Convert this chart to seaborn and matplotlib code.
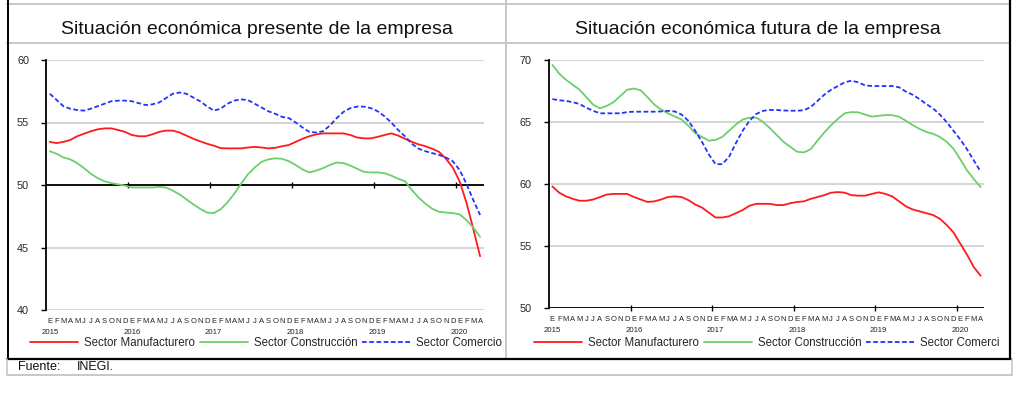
import numpy as np
import pandas as pd
import matplotlib
matplotlib.use('Agg')
import matplotlib.pyplot as plt
import seaborn as sns
from matplotlib.lines import Line2D
from matplotlib.transforms import Bbox, TransformedBbox

sns.set_theme(style='white')
plt.rcParams['font.family'] = ['Liberation Sans', 'DejaVu Sans']

# ---------------- data ----------------
meses = ['E', 'F', 'M', 'A', 'M', 'J', 'J', 'A', 'S', 'O', 'N', 'D']
anios = ['2015', '2016', '2017', '2018', '2019', '2020']
sectores = ['Sector Manufacturero', 'Sector Construcción', 'Sector Comercio']
titulos = ['Situación económica presente de la empresa',
           'Situación económica futura de la empresa']
fuente = ['Fuente:', 'INEGI.']

presente_manuf = [53.45, 53.35, 53.45, 53.6, 53.9, 54.1, 54.3, 54.45, 54.53, 54.53, 54.4, 54.25,
                  54.0, 53.9, 53.9, 54.05, 54.25, 54.35, 54.35, 54.2, 53.95, 53.7, 53.5, 53.3,
                  53.15, 52.95, 52.93, 52.93, 52.93, 53.0, 53.05, 53.0, 52.93, 52.97, 53.1, 53.2,
                  53.45, 53.7, 53.9, 54.05, 54.13, 54.13, 54.13, 54.13, 54.0, 53.8, 53.73, 53.73,
                  53.85, 54.0, 54.13, 53.95, 53.7, 53.45, 53.25, 53.1, 52.9, 52.65, 52.1, 51.4,
                  50.3, 48.6, 46.5, 44.3]
presente_constr = [52.7, 52.5, 52.2, 52.05, 51.75, 51.35, 50.9, 50.55, 50.3, 50.15, 50.05, 49.95,
                   49.8, 49.8, 49.8, 49.8, 49.85, 49.8, 49.55, 49.25, 48.85, 48.45, 48.1, 47.8,
                   47.75, 48.05, 48.6, 49.3, 50.1, 50.85, 51.4, 51.85, 52.05, 52.13, 52.1, 51.9,
                   51.6, 51.25, 51.0, 51.15, 51.35, 51.6, 51.8, 51.75, 51.55, 51.3, 51.05, 51.0,
                   51.0, 50.95, 50.75, 50.5, 50.3, 49.6, 49.0, 48.5, 48.1, 47.85, 47.8, 47.75,
                   47.65, 47.2, 46.6, 45.85]
presente_comer = [57.3, 56.8, 56.3, 56.1, 56.0, 55.95, 56.1, 56.3, 56.5, 56.7, 56.75, 56.75,
                  56.7, 56.55, 56.4, 56.45, 56.6, 56.95, 57.3, 57.4, 57.3, 57.0, 56.7, 56.3,
                  55.95, 56.1, 56.5, 56.75, 56.85, 56.8, 56.5, 56.2, 55.9, 55.7, 55.45, 55.35,
                  55.0, 54.6, 54.25, 54.2, 54.3, 54.75, 55.35, 55.85, 56.15, 56.27, 56.27, 56.15,
                  55.9, 55.5, 55.0, 54.4, 53.9, 53.3, 52.9, 52.7, 52.55, 52.4, 52.2, 51.9,
                  51.2, 50.1, 48.8, 47.6]

futura_manuf = [59.8, 59.3, 59.0, 58.8, 58.65, 58.65, 58.75, 58.95, 59.15, 59.2, 59.2, 59.2,
                58.95, 58.75, 58.55, 58.6, 58.75, 58.95, 59.0, 58.95, 58.7, 58.35, 58.1, 57.7,
                57.3, 57.3, 57.4, 57.65, 57.9, 58.25, 58.4, 58.4, 58.4, 58.3, 58.3, 58.45,
                58.55, 58.6, 58.8, 58.95, 59.1, 59.3, 59.35, 59.3, 59.1, 59.06, 59.06, 59.2,
                59.33, 59.2, 59.0, 58.6, 58.2, 57.95, 57.8, 57.65, 57.5, 57.2, 56.7, 56.1,
                55.2, 54.3, 53.3, 52.6]
futura_constr = [69.6, 68.9, 68.4, 68.0, 67.6, 67.0, 66.4, 66.1, 66.3, 66.6, 67.1, 67.6,
                 67.7, 67.55, 67.0, 66.4, 66.0, 65.7, 65.45, 65.2, 64.7, 64.1, 63.8, 63.5,
                 63.55, 63.8, 64.3, 64.8, 65.2, 65.35, 65.35, 65.0, 64.5, 63.95, 63.4, 63.0,
                 62.6, 62.55, 62.8, 63.5, 64.15, 64.75, 65.25, 65.7, 65.8, 65.78, 65.6, 65.43,
                 65.5, 65.56, 65.55, 65.43, 65.1, 64.75, 64.45, 64.2, 64.05, 63.8, 63.4, 62.85,
                 62.0, 61.1, 60.4, 59.75]
futura_comer = [66.85, 66.75, 66.7, 66.6, 66.45, 66.15, 65.9, 65.7, 65.7, 65.7, 65.7, 65.8,
                65.83, 65.83, 65.83, 65.83, 65.85, 65.9, 65.85, 65.6, 65.1, 64.3, 63.4, 62.4,
                61.6, 61.6, 62.2, 63.3, 64.3, 65.1, 65.65, 65.9, 65.97, 65.97, 65.93, 65.91,
                65.91, 65.95, 66.2, 66.7, 67.2, 67.6, 67.9, 68.2, 68.33, 68.2, 67.95, 67.9,
                67.9, 67.9, 67.9, 67.8, 67.45, 67.2, 66.85, 66.45, 66.1, 65.6, 65.0, 64.3,
                63.6, 62.8, 61.9, 61.0]

# ---------------- styles ----------------
colores = {'Sector Manufacturero': '#FF1A1A',
           'Sector Construcción': '#6CCF6C',
           'Sector Comercio': '#2233FF'}
estilos = {'Sector Manufacturero': '',
           'Sector Construcción': '',
           'Sector Comercio': (2.6, 1.4)}

W, H = 1024, 398
fig = plt.figure(figsize=(W / 100, H / 100), dpi=100)
fig.patch.set_facecolor('white')


def fx(x):
    return x / W


def fy(y):
    return 1 - y / H


def hacer_df(vals):
    frames = []
    for nombre, v in zip(sectores, vals):
        frames.append(pd.DataFrame({'mes': np.arange(len(v)), 'valor': v, 'sector': nombre}))
    return pd.concat(frames, ignore_index=True)


paneles = [
    dict(rect=[fx(46.4), fy(310), fx(483.5) - fx(46.4), fy(60) - fy(310)],
         vals=[presente_manuf, presente_constr, presente_comer],
         ylim=(40, 60), yticks=[40, 45, 50, 55, 60], eje=50,
         title_x=257, leg_x=266),
    dict(rect=[fx(549), fy(308), fx(984) - fx(549), fy(60) - fy(308)],
         vals=[futura_manuf, futura_constr, futura_comer],
         ylim=(50, 70), yticks=[50, 55, 60, 65, 70], eje=50,
         title_x=758, leg_x=770),
]

for k, p in enumerate(paneles):
    ax = fig.add_axes(p['rect'])
    df = hacer_df(p['vals'])
    n = len(p['vals'][0])
    ax.set_facecolor('white')
    for y in p['yticks']:
        ax.axhline(y, color='#d4d4d4', lw=1.4, zorder=0)
    ax.axhline(p['eje'], color='black', lw=1.3, zorder=1)
    sns.lineplot(data=df, x='mes', y='valor', hue='sector', style='sector',
                 palette=colores, dashes=estilos, lw=1.3, ax=ax, legend=False, zorder=3)
    ax.set_xlim(-0.5, n - 0.5)
    ax.set_ylim(*p['ylim'])
    ax.set_yticks(p['yticks'])
    ax.set_yticklabels([str(t) for t in p['yticks']], fontsize=7.8)
    ax.set_xticks(np.arange(11.5, n - 1, 12))
    ax.set_xticklabels([])
    ax.set_xlabel('')
    ax.set_ylabel('')
    for s in ['top', 'right']:
        ax.spines[s].set_visible(False)
    ax.spines['left'].set_color('black')
    ax.spines['left'].set_linewidth(1.3)
    ax.spines['bottom'].set_position(('data', p['eje']))
    ax.spines['bottom'].set_alpha(0)
    ax.tick_params(axis='y', direction='out', length=3.5, width=1.0, color='black', pad=9, left=True)
    ax.tick_params(axis='x', direction='inout', length=4, width=1.0, color='black', bottom=True)
    ax.xaxis.set_ticks_position('bottom')
    # month letters and year labels
    tr = ax.get_xaxis_transform()
    for i in range(n):
        ax.text(i, -0.032, meses[i % 12], transform=tr, ha='center', va='top',
                fontsize=5.5, color='#222222', clip_on=False)
    for j, a in enumerate(anios):
        ax.text(j * 12, -0.075, a, transform=tr, ha='center', va='top',
                fontsize=5.6, color='#222222', clip_on=False)
    # title
    fig.text(fx(p['title_x']), fy(30), titulos[k], ha='center', va='center',
             fontsize=14, color='#111111')
    # legend
    handles = [Line2D([], [], color=colores[s], lw=1.3,
                      dashes=estilos[s] if estilos[s] else (None, None)) for s in sectores]
    leg = fig.legend(handles, sectores, loc='center', ncol=3,
                     bbox_to_anchor=(fx(p['leg_x']), fy(343)), bbox_transform=fig.transFigure,
                     frameon=False, fontsize=8.3, handlelength=4.2, handletextpad=0.5,
                     columnspacing=0.4, borderpad=0, borderaxespad=0)
    if k == 1:
        clip = TransformedBbox(Bbox([[fx(505), fy(360)], [fx(1000), fy(320)]]), fig.transFigure)
        for t in leg.get_texts():
            t.set_clip_on(True)
            t.set_clip_box(clip)


# ---------------- frame lines ----------------
def linea(x0, y0, x1, y1, color, lw):
    fig.add_artist(Line2D([fx(x0), fx(x1)], [fy(y0), fy(y1)], transform=fig.transFigure,
                          color=color, lw=lw))


gris = '#c8c8c8'
linea(7, 3.5, 1010, 3.5, gris, 1.4)
linea(7, 43, 1010, 43, gris, 1.4)
linea(505.5, 0, 505.5, 359, gris, 1.4)
linea(7.5, 0, 7.5, 359, 'black', 1.4)
linea(1010, 0, 1010, 359, 'black', 1.6)
linea(7, 359, 1011, 359, 'black', 1.6)
linea(7, 375, 1012, 375, gris, 1.4)
linea(7, 359, 7, 375, gris, 1.2)
linea(1012, 359, 1012, 375, gris, 1.2)

fig.text(fx(18), fy(367), fuente[0], ha='left', va='center', fontsize=9, color='#111111')
fig.text(fx(77), fy(367), fuente[1], ha='left', va='center', fontsize=9, color='#111111')

fig.savefig('out.png', dpi=100, facecolor='white')
